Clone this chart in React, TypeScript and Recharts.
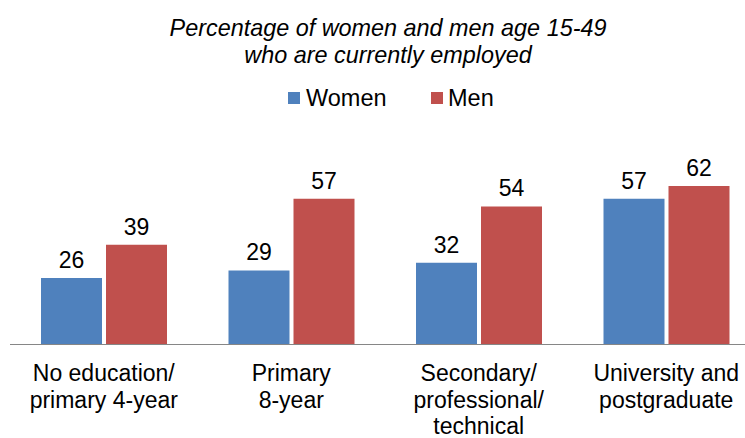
import React from "react";
import { BarChart, Bar, XAxis, YAxis, LabelList, Legend } from "recharts";

const categories = [
  "No education/\nprimary 4-year",
  "Primary\n8-year",
  "Secondary/\nprofessional/\ntechnical",
  "University and\npostgraduate",
];
const women = [26, 29, 32, 57];
const men = [39, 57, 54, 62];
const titleLines = [
  "Percentage of women and men age 15-49",
  "who are currently employed",
];

const data = categories.map((c, i) => ({ name: c, Women: women[i], Men: men[i] }));

const FONT = "'Liberation Sans', Arial, sans-serif";

const CategoryTick = (props: any) => {
  const { x, y, payload } = props;
  const lines = String(payload.value).split("\n");
  return (
    <g transform={`translate(${x},${y})`}>
      {lines.map((l: string, i: number) => (
        <text
          key={i}
          x={0}
          y={28.5 + i * 26.5}
          textAnchor="middle"
          fontFamily={FONT}
          fontSize={23}
          fill="#000"
        >
          {l}
        </text>
      ))}
    </g>
  );
};

const LEGEND_POS: Record<string, { sq: number; tx: number }> = {
  Women: { sq: 288, tx: 306 },
  Men: { sq: 431, tx: 448 },
};

const LegendContent = (props: any) => {
  const { payload } = props;
  return (
    <svg width={745} height={120} style={{ position: "absolute", left: 0, top: 0 }}>
      {(payload || []).map((p: any, i: number) => {
        const pos = LEGEND_POS[p.value];
        if (!pos) return null;
        return (
          <g key={i}>
            <rect x={pos.sq} y={92} width={12} height={12} fill={p.color} />
            <text x={pos.tx} y={106} fontFamily={FONT} fontSize={23.5} fill="#000">
              {p.value}
            </text>
          </g>
        );
      })}
    </svg>
  );
};

export default function App() {
  return (
    <div
      style={{
        position: "absolute",
        left: 0,
        top: 0,
        width: 745,
        height: 438,
        overflow: "hidden",
        background: "#fff",
      }}
    >
      <div
        style={{
          position: "absolute",
          left: 0,
          top: 15,
          width: 776,
          textAlign: "center",
          fontFamily: FONT,
          fontStyle: "italic",
          fontSize: 23.4,
          lineHeight: "27px",
          color: "#000",
          zIndex: 2,
        }}
      >
        {titleLines.map((t, i) => (
          <div key={i}>{t}</div>
        ))}
      </div>
      <BarChart
        width={770}
        height={438}
        data={data}
        margin={{ top: 165.6, right: 10, bottom: 0, left: 10 }}
        barGap={4}
        barSize={61}
      >
        <YAxis hide domain={[0, 70]} />
        <XAxis
          dataKey="name"
          interval={0}
          tickLine={false}
          axisLine={{ stroke: "#868686", strokeWidth: 1 }}
          tick={<CategoryTick />}
          height={93.5}
        />
        <Legend
          verticalAlign="top"
          content={<LegendContent />}
          wrapperStyle={{ position: "absolute", left: 0, top: 0, width: 745, height: 0 }}
        />
        <Bar dataKey="Women" fill="#4F81BD" isAnimationActive={false}>
          <LabelList
            dataKey="Women"
            position="top"
            offset={10}
            fontFamily={FONT}
            fontSize={23}
            fill="#000"
          />
        </Bar>
        <Bar dataKey="Men" fill="#C0504D" isAnimationActive={false}>
          <LabelList
            dataKey="Men"
            position="top"
            offset={10}
            fontFamily={FONT}
            fontSize={23}
            fill="#000"
          />
        </Bar>
      </BarChart>
    </div>
  );
}
